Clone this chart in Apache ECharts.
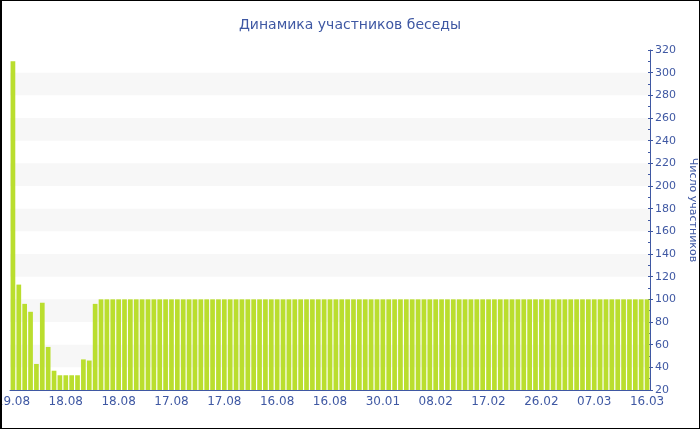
<!DOCTYPE html>
<html><head><meta charset="utf-8">
<script src="https://cdn.jsdelivr.net/npm/echarts@6/dist/echarts.min.js"></script>
<style>
html,body{margin:0;padding:0;background:#fff;}
#frame{width:700px;height:429px;box-sizing:border-box;border:1px solid #000;border-left-width:2px;position:relative;overflow:hidden;}
#chart{position:absolute;left:-2px;top:-1px;width:700px;height:430px;}
</style></head>
<body><div id="frame"><div id="chart"></div></div>
<script>
const tickLabels = ['19.08','18.08','18.08','17.08','17.08','16.08','16.08','30.01','08.02','17.02','26.02','07.03','16.03'];
const headValues = [310,113,96,89,43,97,58,37,33,33,33,33,47,46,96];
const tailValues = [100,100,100,100,100,100,100,100,100,100,100,100,100,100,100,100,100,100,100,100,
  100,100,100,100,100,100,100,100,100,100,100,100,100,100,100,100,100,100,100,100,
  100,100,100,100,100,100,100,100,100,100,100,100,100,100,100,100,100,100,100,100,
  100,100,100,100,100,100,100,100,100,100,100,100,100,100,100,100,100,100,100,100,
  100,100,100,100,100,100,100,100,100,100,100,100,100,100];
const values = headValues.concat(tailValues);
const labelStep = 9;
const categories = values.map((v, i) => (i % labelStep === 0 ? tickLabels[i / labelStep] : ''));

const blue = '#3f58a3';
const font = 'DejaVu Sans';
const chart = echarts.init(document.getElementById('chart'));
chart.setOption({
  animation: false,
  title: {
    text: 'Динамика участников беседы',
    left: 'center', top: 13,
    textStyle: {color: blue, fontFamily: font, fontSize: 14, fontWeight: 'normal'}
  },
  grid: {left: 10, right: 50, top: 50, bottom: 40, containLabel: false, outerBoundsMode: 'none'},
  xAxis: {
    type: 'category', data: categories, boundaryGap: true,
    axisLine: {lineStyle: {color: blue, width: 1}},
    axisTick: {alignWithLabel: true, interval: labelStep - 1, length: 4, lineStyle: {color: blue}},
    axisLabel: {interval: labelStep - 1, color: blue, fontFamily: font, fontSize: 12, margin: 6, showMinLabel: true, showMaxLabel: true, hideOverlap: false}
  },
  yAxis: [{
    type: 'value', position: 'right', min: 20, max: 320, interval: 20,
    name: 'Число участников', nameLocation: 'middle', nameRotate: -90, nameGap: 33,
    nameTextStyle: {color: blue, fontFamily: font, fontSize: 11, padding: [0, 20, 0, 0]},
    axisLine: {show: true, lineStyle: {color: blue}},
    axisTick: {show: true, length: 3, lineStyle: {color: blue}},
    axisLabel: {color: blue, fontFamily: font, fontSize: 11, margin: 5},
    splitLine: {show: false},
    splitArea: {show: true, areaStyle: {color: ['rgba(255,255,255,0)', '#f7f7f7']}}
  }, {
    type: 'value', position: 'right', min: 20, max: 320, interval: 20,
    axisLine: {show: false},
    axisTick: {show: true, inside: true, length: 2, lineStyle: {color: blue}},
    minorTick: {show: true, splitNumber: 2, length: 2, lineStyle: {color: blue}},
    axisLabel: {show: false}, splitLine: {show: false}
  }],
  series: [{
    type: 'bar', data: values, yAxisIndex: 0,
    barCategoryGap: '20%',
    itemStyle: {color: '#bade2e'}
  }]
});
</script></body></html>
